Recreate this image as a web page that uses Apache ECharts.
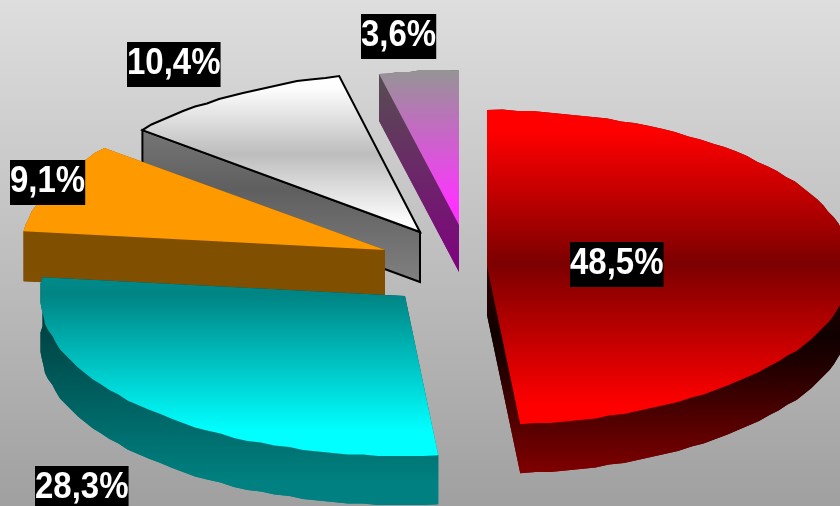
<!DOCTYPE html>
<html><head><meta charset="utf-8">
<style>html,body{margin:0;padding:0;background:#fff}#c{width:840px;height:506px}</style>
<script src="https://cdn.jsdelivr.net/npm/echarts@6/dist/echarts.min.js"></script>
</head><body><div id="c"></div>
<script>
const shares = [48.5, 28.3, 9.1, 10.4, 3.6];
const labels = ['48,5%', '28,3%', '9,1%', '10,4%', '3,6%'];
const apexX = [487, 405, 385, 420, 459];
const apexY = [266, 296, 250, 232, 225];
const radiusX = [365, 365, 364, 360, 356];
const radiusYTop = [156, 160, 160, 160, 155];
const radiusYBottom = [159, 160, 160, 160, 160];
const labelX = [570, 35, 10, 127, 361];
const labelY = [242, 466, 160, 42, 14];
const drawRank = [5, 4, 3, 2, 1];
const depth = [49, 49, 50, 50, 47];
const topStops = [
  [[0, '#ff0000'], [0.07, '#ff0000'], [0.49, '#7c0000'], [0.94, '#ff0000'], [1, '#ff0000']],
  [[0, '#008a8a'], [0.1, '#008484'], [0.86, '#00ffff'], [1, '#00ffff']],
  [[0, '#ff9900'], [1, '#ff9900']],
  [[0, '#ffffff'], [0.08, '#fdfdfd'], [0.5, '#bdbdbd'], [0.95, '#ffffff'], [1, '#ffffff']],
  [[0, '#959595'], [0.88, '#ff33ff'], [1, '#ff33ff']]
];
const wallStops = [
  [[0, '#800000'], [0.62, '#100000'], [0.7, '#200000'], [1, '#800000']],
  [[0, '#003c3c'], [0.88, '#008080'], [1, '#008080']],
  [[0, '#804f00'], [1, '#804f00']],
  [[0, '#8a8a8a'], [0.55, '#5f5f5f'], [1, '#808080']],
  [[0, '#555050'], [1, '#800080']]
];
const total = shares.reduce((a, b) => a + b, 0);
const snap = 1.5;

function grad(stops, y1, y2) {
  return { type: 'linear', global: true, x: 0, y: y1, x2: 0, y2: y2,
    colorStops: stops.map(s => ({ offset: s[0], color: s[1] })) };
}

function renderItem(params, api) {
  const i = params.dataIndex;
  const v = api.value(0);
  let before = 0;
  for (let k = 0; k < i; k++) before += shares[k];
  const a0 = before / total * Math.PI * 2;
  const a1 = (before + v) / total * Math.PI * 2;
  const ax = apexX[i], ay = apexY[i], d = depth[i];
  const rim = [];
  const n = Math.max(8, Math.round((a1 - a0) * 24));
  for (let s = 0; s <= n; s++) {
    const a = a0 + (a1 - a0) * s / n;
    const c = Math.cos(a);
    let x = ax + radiusX[i] * Math.sin(a);
    let y = ay - (c > 0 ? radiusYTop[i] : radiusYBottom[i]) * c;
    if (s > 0 && s < n) {
      x = Math.round(x / snap) * snap;
      y = Math.round(y / snap) * snap;
    }
    rim.push([x, y]);
  }
  const topPts = [[ax, ay]].concat(rim);
  const down = p => [p[0], p[1] + d];
  const ys = topPts.map(p => p[1]);
  const yMin = Math.min.apply(null, ys), yMax = Math.max.apply(null, ys);
  const topFill = grad(topStops[i], yMin, yMax);
  const wallFill = grad(wallStops[i], i === 1 ? yMin + 30 : yMin, yMax + d);
  const outlined = i === 3;
  const z = drawRank[i] * 10;
  const poly = (pts, fill, stroke, zz) => ({
    type: 'polygon', z2: zz, silent: true, shape: { points: pts },
    style: { fill: fill, stroke: stroke ? '#000' : null, lineWidth: stroke ? 2 : 0 }
  });
  const children = [];
  children.push(poly(topPts.map(down), wallFill, false, z));
  children.push(poly(rim.concat(rim.slice().reverse().map(down)), wallFill, false, z + 1));
  children.push(poly([[ax, ay], rim[n], down(rim[n]), down([ax, ay])], wallFill, false, z + 1));
  children.push(poly([[ax, ay], rim[0], down(rim[0]), down([ax, ay])], wallFill, outlined, z + 2));
  children.push(poly(topPts, topFill, outlined, z + 3));
  children.push({
    type: 'text', z2: 200, silent: true,
    x: labelX[i], y: labelY[i], scaleY: 1.1,
    style: { x: 0, y: 0, text: labels[i], fill: '#fff',
      font: 'bold 33px "Liberation Sans", Arial, sans-serif', lineHeight: 40,
      padding: [0, 0, 1, 0],
      backgroundColor: '#000', align: 'left', verticalAlign: 'top' }
  });
  return { type: 'group', children: children };
}

const chart = echarts.init(document.getElementById('c'), null, { renderer: 'canvas' });
chart.setOption({
  animation: false,
  backgroundColor: { type: 'linear', x: 0, y: 0, x2: 0, y2: 1,
    colorStops: [{ offset: 0, color: '#dedede' }, { offset: 1, color: '#a0a0a0' }] },
  series: [{
    type: 'custom', coordinateSystem: 'none', renderItem: renderItem, clip: false,
    data: shares.map(s => [s])
  }]
});
</script></body></html>
